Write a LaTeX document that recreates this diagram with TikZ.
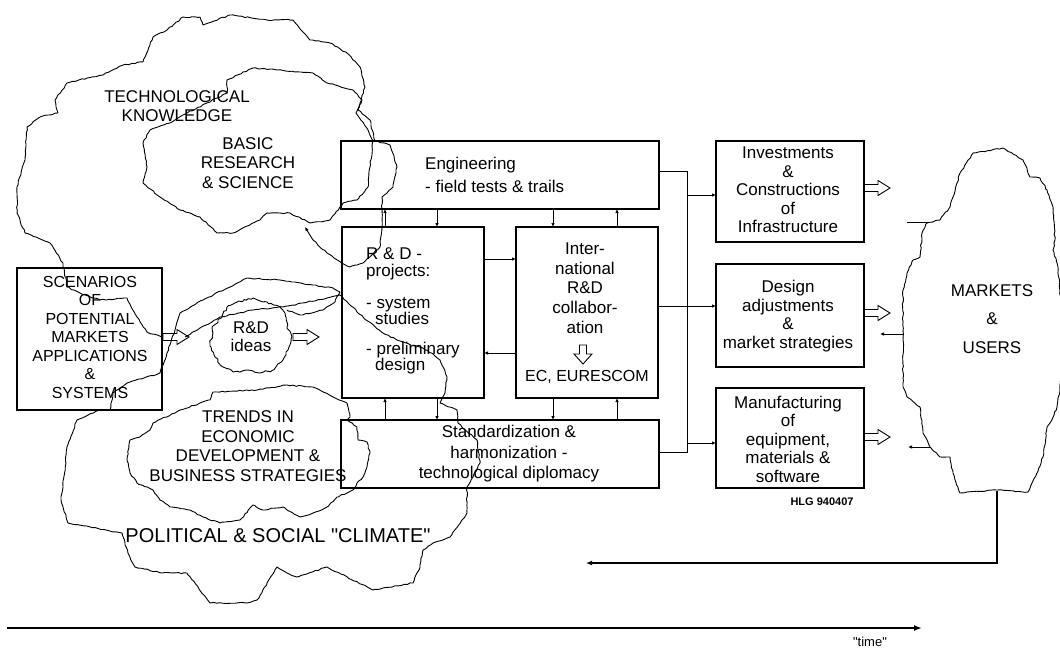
\documentclass[tikz,border=0pt]{standalone}
\usepackage{fontspec}
\setmainfont{Liberation Sans}[Ligatures=TeXOff]
\usetikzlibrary{arrows.meta,decorations.pathmorphing}
\begin{document}
\begin{tikzpicture}[x=1pt,y=-1pt,
  box/.style={draw,line width=1.2pt,inner sep=0pt,outer sep=0pt,anchor=north west},
  cloud/.style={draw,line width=0.9pt,line join=round,decorate,decoration={random steps,segment length=3pt,amplitude=0.6pt}},
  txt/.style={font=\fontsize{17}{18.5}\selectfont,align=center,inner sep=0pt},
  tip/.style={-{Latex[length=4pt,width=3.5pt]}},
  conn/.style={line width=1pt},
  harrow/.pic={\draw[line width=0.9pt,line join=miter] (0,-3.5) -- (14,-3.5) -- (14,-7.5) -- (26,0) -- (14,7.5) -- (14,3.5) -- (0,3.5) -- cycle;},
  harrowD/.pic={\draw[line width=0.9pt,line join=miter] (-3.5,0) -- (-3.5,9) -- (-9,9) -- (0,19) -- (9,9) -- (3.5,9) -- (3.5,0) -- cycle;}
]
\pgfmathsetseed{7}
\useasboundingbox[fill=white] (0,0) rectangle (1060,649);

% ---------- boxes ----------
\node[box,minimum width=145pt,minimum height=142pt] (scen) at (17,268) {};
\node[box,minimum width=318pt,minimum height=68pt] (eng) at (341,141) {};
\node[box,minimum width=142pt,minimum height=171pt] (rdp) at (342,227) {};
\node[box,minimum width=142pt,minimum height=171pt] (intl) at (516,227) {};
\node[box,minimum width=318pt,minimum height=68pt] (std) at (341,420) {};
\node[box,minimum width=148pt,minimum height=101pt] (inv) at (716,141) {};
\node[box,minimum width=148pt,minimum height=103pt] (des) at (716,264) {};
\node[box,minimum width=148pt,minimum height=100pt] (man) at (716,388) {};

% ---------- clouds ----------
% technological knowledge outline
\draw[cloud] (163,337) -- (147,332) -- (137,317) -- (127,298) -- (100,300) -- (80,293) -- (67,287) -- (63,263) -- (50,243) -- (25,233) -- (17,213) -- (17,187) -- (25,160) -- (27,127) -- (40,117) -- (58,113) -- (55,100) -- (67,83) -- (87,78) -- (103,75) -- (123,65) -- (143,62) -- (153,37) -- (167,30) -- (183,17) -- (200,17) -- (203,25) -- (230,15) -- (267,20) -- (293,20) -- (310,40) -- (330,43) -- (347,53) -- (360,67) -- (365,87) -- (360,103) -- (358,110) -- (370,120) -- (375,141) -- (390,145) -- (397,167) -- (393,187) -- (382,197) -- (382,227) -- (380,247) -- (363,263) -- (350,267) -- (342,263) -- (327,253) -- (313,240);
\coordinate (brA) at (313,240);
\coordinate (brB) at (305,227);
\draw[line width=0.9pt,tip] (brA) -- (brB);

% political & social climate outline and its wanderings
\draw[cloud] (185,337) -- (220,317) -- (253,310) -- (283,307) -- (327,298) -- (340,295) -- (363,317) -- (383,333) -- (397,340) -- (427,350) -- (440,360) -- (447,377) -- (445,393) -- (440,403) -- (457,410) -- (458,423) -- (477,440) -- (480,463) -- (473,477) -- (467,487) -- (467,513) -- (450,537) -- (433,543) -- (423,550) -- (420,567) -- (413,583) -- (373,590) -- (327,567) -- (297,577) -- (287,573) -- (277,567) -- (257,600) -- (247,603) -- (210,603) -- (187,573) -- (162,573) -- (135,567) -- (128,553) -- (122,533) -- (68,523) -- (61,500) -- (63,487) -- (67,447) -- (77,420) -- (100,410) -- (110,410) -- (113,393) -- (127,383) -- (160,373) -- (175,330) -- (180,313) -- (203,300) -- (247,278) -- (280,280) -- (313,285) -- (333,288) -- (340,292) -- (335,302) -- (323,310) -- (300,315) -- (287,310);

% basic research cloud
\draw[cloud] (227,80) -- (253,68) -- (277,70) -- (313,73) -- (327,83) -- (353,90) -- (362,100) -- (356,113) -- (366,127) -- (373,141) -- (370,167) -- (368,187) -- (357,200) -- (343,203) -- (340,207) -- (330,220) -- (310,223) -- (290,213) -- (267,213) -- (260,220) -- (233,233) -- (217,233) -- (200,217) -- (180,210) -- (160,197) -- (143,183) -- (147,167) -- (143,143) -- (150,130) -- (170,123) -- (187,113) -- (207,103) -- (227,93) -- cycle;

% trends cloud
\draw[cloud] (153,423) -- (180,410) -- (210,400) -- (213,392) -- (257,390) -- (287,385) -- (313,387) -- (333,397) -- (347,403) -- (350,417) -- (347,420) -- (357,427) -- (358,440) -- (367,442) -- (370,453) -- (367,467) -- (363,477) -- (357,483) -- (353,490) -- (347,493) -- (337,497) -- (327,507) -- (313,513) -- (300,517) -- (283,507) -- (263,510) -- (253,505) -- (240,520) -- (220,523) -- (203,517) -- (190,510) -- (170,507) -- (160,500) -- (153,490) -- (137,483) -- (130,473) -- (127,460) -- (130,440) -- (140,437) -- (150,430) -- cycle;

% R&D ideas cloud
\draw[cloud,decoration={random steps,segment length=2.5pt,amplitude=1.1pt}] (237,302) -- (253,298) -- (267,302) -- (280,307) -- (285,313) -- (287,327) -- (292,337) -- (288,350) -- (283,360) -- (273,370) -- (260,373) -- (247,370) -- (233,372) -- (223,367) -- (215,357) -- (210,343) -- (213,333) -- (212,327) -- (222,317) -- (227,307) -- cycle;

% markets cloud
\draw[cloud] (973,153) -- (1003,148) -- (1023,160) -- (1030,177) -- (1040,178) -- (1047,190) -- (1053,207) -- (1055,240) -- (1053,250) -- (1058,267) -- (1060,290) -- (1062,330) -- (1060,390) -- (1057,407) -- (1050,423) -- (1047,427) -- (1043,457) -- (1037,473) -- (1028,492) -- (997,490) -- (960,493) -- (953,473) -- (950,457) -- (940,457) -- (930,447) -- (923,433) -- (920,407) -- (907,397) -- (903,387) -- (903,340) -- (903,290) -- (907,273) -- (913,260) -- (920,257) -- (922,233) -- (927,223) -- (940,220) -- (950,207) -- (953,197) -- (960,173) -- cycle;

% ---------- texts ----------
\node[txt] (tk) at (177,106) {TECHNOLOGICAL\\KNOWLEDGE};
\node[txt,font=\fontsize{17}{19.5}\selectfont] (brt) at (248,163) {BASIC\\RESEARCH\\\& SCIENCE};
\node[txt,font=\fontsize{16}{18.5}\selectfont] (scent) at (90,337) {SCENARIOS\\OF\\POTENTIAL\\MARKETS\\APPLICATIONS\\\&\\SYSTEMS};
\node[txt,font=\fontsize{17}{18}\selectfont] (idt) at (251,337) {R\&D\\ideas};
\node[txt,font=\fontsize{17}{19.5}\selectfont] (trt) at (248,446) {TRENDS IN\\ECONOMIC\\DEVELOPMENT \&\\BUSINESS STRATEGIES};
\node[txt,font=\fontsize{20}{22}\selectfont] (pol) at (278,536) {POLITICAL \& SOCIAL "CLIMATE"};
\node[txt,align=left,anchor=west,font=\fontsize{17}{23}\selectfont] (engt) at (425,175) {Engineering\\- field tests \& trails};
\node[txt,align=left,anchor=west,font=\fontsize{17}{17}\selectfont] (rdt1) at (366,264) {R \& D -\\projects:};
\node[txt,align=left,anchor=west,font=\fontsize{17}{16}\selectfont] (rdt2) at (366,311) {- system\\\hspace*{9pt}studies};
\node[txt,align=left,anchor=west,font=\fontsize{17}{16}\selectfont] (rdt3) at (366,358) {- preliminary\\\hspace*{9pt}design};
\node[txt,font=\fontsize{17}{19.7}\selectfont] (intt) at (585,288) {Inter-\\national\\R\&D\\collabor-\\ation};
\node[txt,font=\fontsize{16}{18}\selectfont] (ect) at (587,377) {EC, EURESCOM};
\node[txt,font=\fontsize{17}{20.5}\selectfont] (stdt) at (509,454) {Standardization \&\\harmonization -\\technological diplomacy};
\node[txt] (invt) at (788,190) {Investments\\\&\\Constructions\\of\\Infrastructure};
\node[txt] (dest) at (788,316) {Design\\adjustments\\\&\\market strategies};
\node[txt] (mant) at (788,439) {Manufacturing\\of\\equipment,\\materials \&\\software};
\node[txt,font=\fontsize{17}{28.5}\selectfont] (mkt) at (992,319) {MARKETS\\\&\\USERS};
\node[font=\fontsize{11}{12}\selectfont\bfseries,inner sep=0pt] (hlg) at (822,502) {HLG 940407};
\node[font=\fontsize{13}{14}\selectfont,inner sep=0pt] (time) at (870,642) {"time"};

% ---------- hollow arrows ----------
\pic at (163,337) {harrow};
\pic at (293,337) {harrow};
\pic at (inv.east |- 0,188) {harrow};
\pic at (des.east |- 0,313) {harrow};
\pic at (man.east |- 0,437) {harrow};
\pic at (583,345) {harrowD};

% ---------- connectors ----------
\coordinate (busT) at (687,171);
\coordinate (busB) at (687,452);
\coordinate (c1) at (385,0);
\coordinate (c2) at (437,0);
\coordinate (c3) at (553,0);
\coordinate (c4) at (617,0);
\coordinate (r1) at (0,259);
\coordinate (r2) at (0,353);
\coordinate (r3) at (0,306);

\draw[conn] (eng.east |- busT) -- (busT) -- (busB) -- (std.east |- busB);
\draw[conn,tip] (busT |- 0,195) -- (inv.west |- 0,195);
\draw[conn,tip] (busT |- 0,443) -- (man.west |- 0,443);
\draw[conn,tip] (intl.east |- r3) -- (des.west |- r3);

\draw[conn,tip] (c1 |- rdp.north) -- (c1 |- eng.south);
\draw[conn,tip] (c2 |- eng.south) -- (c2 |- rdp.north);
\draw[conn,tip] (c3 |- eng.south) -- (c3 |- intl.north);
\draw[conn,tip] (c4 |- intl.north) -- (c4 |- eng.south);
\draw[conn,tip] (c1 |- std.north) -- (c1 |- rdp.south);
\draw[conn,tip] (c2 |- rdp.south) -- (c2 |- std.north);
\draw[conn,tip] (c3 |- intl.south) -- (c3 |- std.north);
\draw[conn,tip] (c4 |- std.north) -- (c4 |- intl.south);
\draw[conn,tip] (rdp.east |- r1) -- (intl.west |- r1);
\draw[conn,tip] (intl.west |- r2) -- (rdp.east |- r2);

% feedback from markets
\coordinate (mk1) at (928,222);
\coordinate (f1) at (907,222);
\coordinate (mk2) at (903,334);
\coordinate (f2) at (880,334);
\coordinate (mk3) at (931,447);
\coordinate (f3) at (908,447);
\draw[conn] (mk1) -- (f1);
\draw[conn,tip] (mk2) -- (f2);
\draw[conn,tip] (mk3) -- (f3);
\coordinate (mkb) at (997,491);
\coordinate (fb) at (997,563);
\coordinate (fe) at (586,563);
\draw[line width=1.8pt,-{Latex[length=6pt,width=5pt]}] (mkb) -- (fb) -- (fe);

% time axis
\coordinate (t0) at (7,628);
\coordinate (t1) at (922,628);
\draw[line width=1.6pt,-{Latex[length=8pt,width=6pt]}] (t0) -- (t1);
\end{tikzpicture}
\end{document}
